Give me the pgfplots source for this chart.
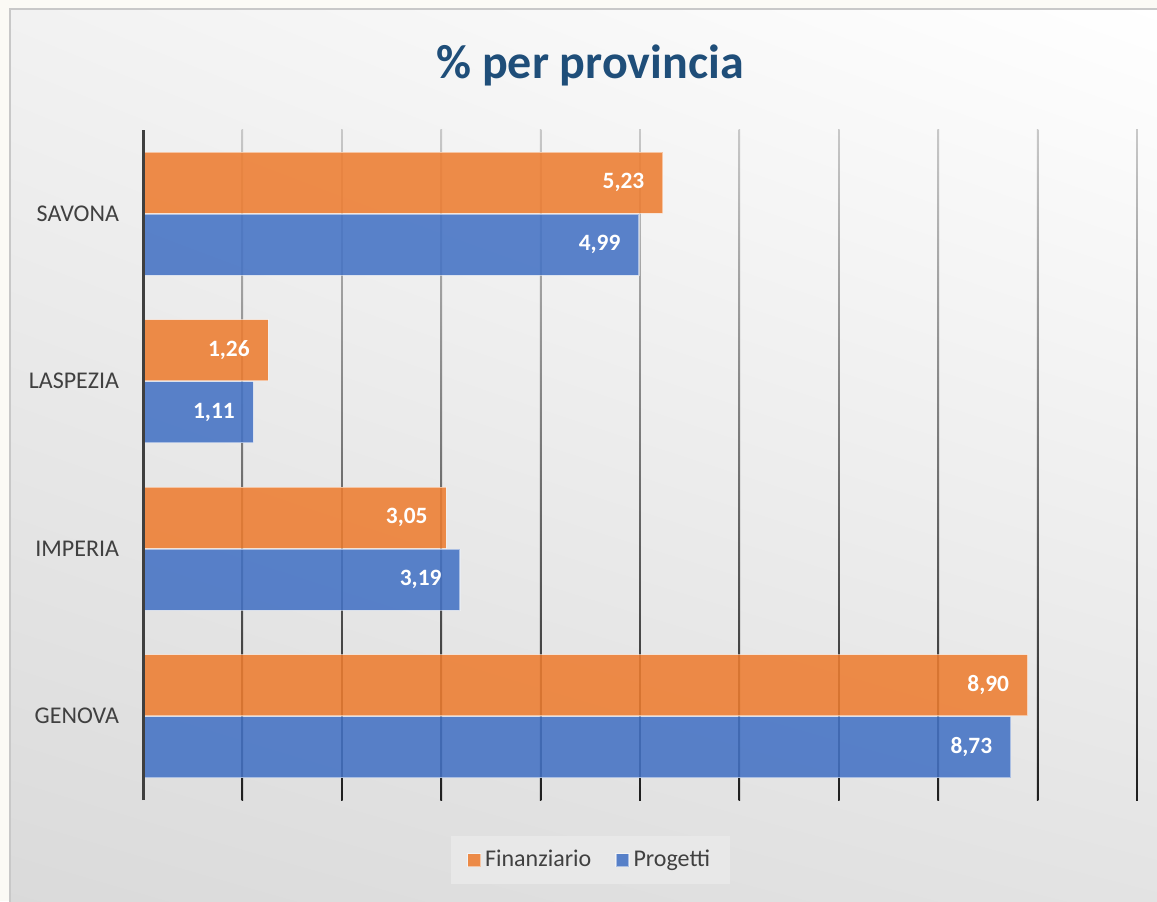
\documentclass[border=0pt]{standalone}
\usepackage{fontspec}
\setmainfont{Carlito}
\usepackage{pgfplots}
\pgfplotsset{compat=1.18}
\usetikzlibrary{shadings}
\definecolor{orangeC}{HTML}{ED7D31}
\definecolor{blueC}{HTML}{4472C4}
\definecolor{titleC}{HTML}{1F4E79}
\definecolor{labC}{HTML}{404040}
\definecolor{creamC}{HTML}{FBFAF5}
\definecolor{frameC}{HTML}{C8C8C8}
\definecolor{bgUL}{HTML}{F2F2F2}
\definecolor{bgLL}{HTML}{DADADA}
\definecolor{bgLR}{HTML}{E3E3E3}
\definecolor{gridT}{HTML}{C8C8C8}
\definecolor{gridB}{HTML}{1E1E1E}
\definecolor{legC}{HTML}{E8E8E8}
\definecolor{axisC}{HTML}{3F3F3F}
\begin{document}
\begin{tikzpicture}
\path[use as bounding box] (0pt,0pt) rectangle (578.5pt,450.5pt);
\fill[creamC] (0pt,0pt) rectangle (578.5pt,450.5pt);
\shade[upper left=bgUL, upper right=white, lower left=bgLL, lower right=bgLR] (5pt,-5pt) rectangle (585pt,446pt);
\draw[frameC, line width=1pt] (5pt,-5pt) rectangle (585pt,446pt);
\foreach \i in {1,...,10} {
  \shade[top color=gridT, bottom color=gridB] ({(71.5+\i*49.7-0.4)*1pt},50.5pt) rectangle ({(71.5+\i*49.7+0.4)*1pt},385.5pt);
}
\node[anchor=base, font=\fontsize{24}{28}\selectfont\bfseries, text=titleC] at (295pt,411pt) {\% per provincia};
\begin{axis}[
  at={(71.5pt,50.5pt)}, anchor=south west,
  scale only axis, width=497pt, height=335pt,
  xmin=0, xmax=10, ymin=-0.5, ymax=3.5,
  axis line style={draw=none},
  xtick=\empty,
  ytick={0,1,2,3},
  yticklabels={GENOVA,IMPERIA,LASPEZIA,SAVONA},
  major tick length=0pt,
  tick style={draw=none},
  yticklabel style={font=\fontsize{12}{14}\selectfont, text=labC, inner sep=0pt, xshift=-11.8pt},
  legend style={at={(0.4502,-0.0896)}, anchor=center, legend columns=2, fill=legC, draw=none,
    font=\fontsize{12}{14}\selectfont, text=labC, inner xsep=8pt, inner ysep=5pt,
    /tikz/every even column/.append style={column sep=10pt}},
  legend image code/.code={\fill[#1] (1.5pt,-3.25pt) rectangle (8pt,3.25pt);},
  point meta=x,
  nodes near coords,
  nodes near coords style={anchor=east, inner sep=0pt, xshift=-9pt, text=white, text opacity=1,
    font=\fontsize{11.7}{14}\selectfont\bfseries,
    /pgf/number format/fixed, /pgf/number format/fixed zerofill, /pgf/number format/precision=2,
    /pgf/number format/use comma, /pgf/number format/assume math mode=true},
]
\addplot[xbar, bar width=0.365, bar shift=0.185, fill=orangeC, fill opacity=0.88, draw=white, draw opacity=0.5, line width=0.6pt,
  every node near coord/.append style={yshift=15.5pt}]
  coordinates {(8.90,0) (3.05,1) (1.26,2) (5.23,3)};
\addlegendentry{Finanziario}
\addplot[xbar, bar width=0.365, bar shift=-0.185, fill=blueC, fill opacity=0.88, draw=white, draw opacity=0.5, line width=0.6pt,
  every node near coord/.append style={yshift=-15.5pt}]
  coordinates {(8.73,0) (3.19,1) (1.11,2) (4.99,3)};
\addlegendentry{Progetti}
\end{axis}
\draw[axisC, line width=1.5pt] (71.5pt,50.5pt) -- (71.5pt,385.5pt);
\end{tikzpicture}
\end{document}
